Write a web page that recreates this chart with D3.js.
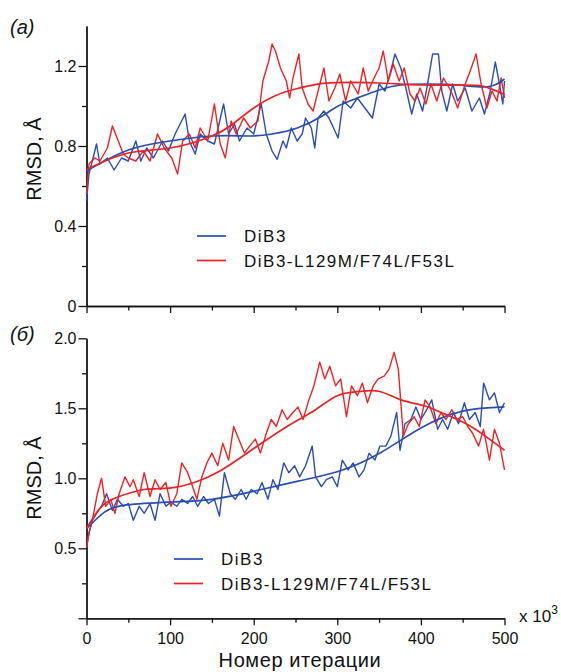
<!DOCTYPE html>
<html>
<head>
<meta charset="utf-8">
<script src="https://cdn.jsdelivr.net/npm/d3@7/dist/d3.min.js"></script>
<style>
body { margin: 0; background: #fff; }
text { font-family: "Liberation Sans", Arial, sans-serif; fill: #111; }
.axis path, .axis line { stroke: #111; stroke-width: 1.3; }
</style>
</head>
<body>
<svg width="561" height="672"></svg>
<script>
// (a) RMSD, iterations in thousands
var aBlueX = [0,3,12,16,25,33,42,50,59,65,72,80,91,98,106,118,123,130,136,145,153,164,170,177,183,192,200,209,215,222,228,235,239,245,252,258,262,269,273,277,284,290,301,307,316,324,333,342,350,357,363,369,376,382,389,395,402,408,414,421,425,431,438,444,453,461,470,476,483,489,494,498,500];
var aBlueY = [0.525,0.66,0.81,0.71,0.74,0.68,0.74,0.725,0.825,0.725,0.79,0.74,0.825,0.775,0.86,0.96,0.825,0.76,0.86,0.825,0.81,1.01,0.86,0.91,0.825,0.89,0.86,1.01,0.86,0.775,0.733,0.825,0.79,0.89,0.825,0.86,0.94,0.89,0.79,0.94,0.975,0.94,0.84,1.025,0.99,1.04,0.99,0.94,1.11,1.075,1.16,1.26,1.19,1.09,0.96,1.06,0.975,1.11,1.26,1.26,1.075,0.975,1.11,1.025,1.09,0.975,1.04,0.96,1.075,1.22,1.11,1.01,1.125];
var aRedX = [0,3,10,16,25,31,38,44,50,59,68,76,85,93,102,109,115,123,130,136,145,153,160,166,173,179,188,196,205,211,218,222,226,232,239,243,247,254,258,265,271,277,284,290,297,303,310,316,325,331,337,344,350,355,361,367,374,380,387,393,399,406,412,419,427,436,444,453,459,466,472,479,485,491,496,500];
var aRedY = [0.56,0.71,0.74,0.725,0.79,0.90,0.825,0.76,0.74,0.725,0.775,0.725,0.86,0.79,0.74,0.66,0.825,0.86,0.79,0.89,0.825,1.01,0.81,0.74,0.925,0.86,0.94,0.89,0.925,1.125,1.225,1.31,1.275,1.19,1.125,1.04,1.14,1.26,1.09,1.01,0.975,1.075,1.19,1.025,1.09,1.16,1.025,1.125,1.06,1.19,1.075,1.14,1.19,1.275,1.125,1.21,1.125,1.19,1.06,1.025,1.09,1.01,1.11,1.025,1.14,1.075,0.99,1.11,1.175,1.26,1.11,0.99,1.075,1.025,1.14,1.04];
var aBlueFitX = [0,50,100,150,196,222,252,282,301,324,350,376,410,444,474,491,500];
var aBlueFitY = [0.675,0.78,0.825,0.85,0.85,0.86,0.89,0.95,1.0,1.04,1.08,1.105,1.11,1.105,1.095,1.11,1.135];
var aRedFitX = [0,50,100,150,175,200,225,250,275,300,350,400,450,475,500];
var aRedFitY = [0.683,0.765,0.79,0.85,0.91,0.99,1.05,1.085,1.108,1.117,1.115,1.105,1.105,1.098,1.058];

// (б)
var bBlueX = [0,3,7,12,18,24,31,37,44,50,56,63,69,76,82,88,95,101,108,114,121,127,133,140,146,153,159,165,172,178,185,191,197,204,210,217,223,229,236,242,249,255,262,270,274,281,287,294,300,306,313,319,326,332,338,345,351,358,364,371,375,381,388,394,400,407,413,420,426,432,439,445,452,458,465,471,475,482,488,494,500];
var bBlueY = [0.50,0.61,0.70,0.75,0.80,0.89,0.77,0.85,0.80,0.82,0.70,0.80,0.75,0.82,0.70,0.89,0.80,0.83,0.80,0.85,0.82,0.87,0.80,0.87,0.82,0.85,0.73,1.04,0.89,0.85,0.92,0.85,0.92,0.89,0.97,0.85,0.99,0.92,1.11,1.04,1.09,1.01,1.09,1.23,1.01,0.94,0.99,1.01,0.94,1.13,1.06,1.11,1.01,1.06,1.18,1.13,1.23,1.23,1.30,1.47,1.20,1.39,1.42,1.51,1.42,1.49,1.56,1.35,1.42,1.35,1.47,1.39,1.54,1.42,1.47,1.37,1.68,1.56,1.61,1.47,1.54];
var bRedX = [0,3,7,13,18,23,29,34,39,46,52,56,63,69,76,82,88,95,101,108,114,121,127,132,138,144,150,157,163,170,176,182,189,195,202,208,215,221,227,234,240,247,253,259,266,272,279,285,291,298,304,311,317,324,330,336,343,349,356,362,368,373,379,385,392,398,405,411,418,424,430,437,443,450,456,462,469,475,482,488,494,500];
var bRedY = [0.51,0.61,0.70,0.89,1.0,0.80,0.85,0.75,0.89,1.01,0.94,0.99,0.87,1.04,0.87,0.99,0.92,0.97,0.80,0.89,1.11,1.04,0.94,0.85,1.01,1.11,1.18,1.09,1.25,1.13,1.37,1.28,1.18,1.23,1.28,1.18,1.32,1.42,1.37,1.49,1.42,1.47,1.51,1.42,1.56,1.66,1.83,1.71,1.80,1.66,1.71,1.44,1.66,1.59,1.68,1.54,1.66,1.71,1.73,1.78,1.90,1.78,1.30,1.39,1.44,1.37,1.56,1.51,1.39,1.47,1.42,1.49,1.42,1.44,1.37,1.32,1.23,1.35,1.13,1.35,1.25,1.06];
var bBlueFitX = [0,22,48,99,150,202,253,302,351,400,450,500];
var bBlueFitY = [0.64,0.76,0.81,0.83,0.85,0.91,0.98,1.05,1.18,1.36,1.48,1.51];
var bRedFitX = [0,18,39,69,99,129,159,197,240,274,300,326,351,376,403,428,454,475,500];
var bRedFitY = [0.64,0.80,0.87,0.92,0.93,0.97,1.05,1.20,1.37,1.49,1.59,1.62,1.62,1.56,1.52,1.46,1.39,1.31,1.20];

var names = ["DiB3", "DiB3-L129M/F74L/F53L"];
var colors = ["#2a4db3", "#ec2227"];
var xMajor = [0,100,200,300,400,500];
var xMinor = [50,150,250,350,450];

var svg = d3.select("svg");
var x = d3.scaleLinear().domain([0, 500]).range([86.5, 504.5]);

function zip(xs, ys) {
    return xs.map(function(d, i) { return [d, ys[i]]; });
}

function drawPanel(y, yMajor, yMinor, yFmt, series, fits, legendX, legendY, xLabels) {
    var g = svg.append("g");
    var bottom = y.range()[0];

    // minor ticks
    g.append("g").attr("class", "axis")
        .attr("transform", "translate(" + x(0) + ",0)")
        .call(d3.axisLeft(y).tickValues(yMinor).tickSize(4.5).tickSizeOuter(0).tickFormat(""));
    g.append("g").attr("class", "axis")
        .attr("transform", "translate(0," + bottom + ")")
        .call(d3.axisBottom(x).tickValues(xMinor).tickSize(4.5).tickSizeOuter(0).tickFormat(""));

    var ya = g.append("g").attr("class", "axis")
        .attr("transform", "translate(" + x(0) + ",0)")
        .call(d3.axisLeft(y).tickValues(yMajor).tickSize(8).tickSizeOuter(0).tickPadding(2).tickFormat(yFmt));
    ya.selectAll("text").style("font-size", "16px");

    var xa = g.append("g").attr("class", "axis")
        .attr("transform", "translate(0," + bottom + ")")
        .call(d3.axisBottom(x).tickValues(xMajor).tickSize(7).tickSizeOuter(0).tickPadding(7)
              .tickFormat(xLabels ? d3.format("d") : ""));
    xa.selectAll("text").style("font-size", "16px");

    var line = d3.line().x(function(d) { return x(d[0]); }).y(function(d) { return y(d[1]); });
    var smooth = d3.line().curve(d3.curveNatural)
        .x(function(d) { return x(d[0]); }).y(function(d) { return y(d[1]); });

    series.forEach(function(s, i) {
        g.append("path").datum(s)
            .attr("fill", "none").attr("stroke", colors[i])
            .attr("stroke-width", 1.4).attr("stroke-linejoin", "round")
            .attr("d", line);
    });
    fits.forEach(function(s, i) {
        g.append("path").datum(s)
            .attr("fill", "none").attr("stroke", colors[i])
            .attr("stroke-width", 1.7)
            .attr("d", smooth);
    });

    names.forEach(function(n, i) {
        var ly = legendY + i * 24.5;
        g.append("line")
            .attr("x1", legendX).attr("x2", legendX + 29)
            .attr("y1", ly).attr("y2", ly)
            .attr("stroke", colors[i]).attr("stroke-width", 1.7);
        g.append("text")
            .attr("x", legendX + 47).attr("y", ly + 6)
            .style("font-size", "17px").style("letter-spacing", "1.5px")
            .text(n);
    });
    return g;
}

var yA = d3.scaleLinear().domain([0, 1.4]).range([306, 26]);
var yB = d3.scaleLinear().domain([0, 2.0]).range([618.3, 338.3]);

drawPanel(yA, [0, 0.4, 0.8, 1.2], [0.2, 0.6, 1.0],
    function(d) { return d === 0 ? "0" : d3.format(".1f")(d); },
    [zip(aBlueX, aBlueY), zip(aRedX, aRedY)],
    [zip(aBlueFitX, aBlueFitY), zip(aRedFitX, aRedFitY)],
    197, 236, false);

drawPanel(yB, [0, 0.5, 1.0, 1.5, 2.0], [0.25, 0.75, 1.25, 1.75],
    function(d) { return d === 0 ? "" : d3.format(".1f")(d); },
    [zip(bBlueX, bBlueY), zip(bRedX, bRedY)],
    [zip(bBlueFitX, bBlueFitY), zip(bRedFitX, bRedFitY)],
    174, 559, true);

// panel labels and titles
svg.append("text").attr("x", 10).attr("y", 34)
    .style("font-size", "20px").style("font-style", "italic").text("(a)");
svg.append("text").attr("x", 10).attr("y", 341)
    .style("font-size", "20px").style("font-style", "italic").text("(б)");

[159, 478].forEach(function(cy) {
    svg.append("text")
        .attr("transform", "translate(41," + cy + ") rotate(-90)")
        .attr("text-anchor", "middle")
        .style("font-size", "20px")
        .text("RMSD, Å");
});

svg.append("text").attr("x", 300).attr("y", 667)
    .attr("text-anchor", "middle").style("font-size", "20px").style("letter-spacing", "0.6px")
    .text("Номер итерации");

var xt = svg.append("text").attr("x", 519).attr("y", 622).style("font-size", "17px");
xt.append("tspan").text("x 10");
xt.append("tspan").attr("dy", -8).style("font-size", "12px").text("3");
</script>
</body>
</html>
